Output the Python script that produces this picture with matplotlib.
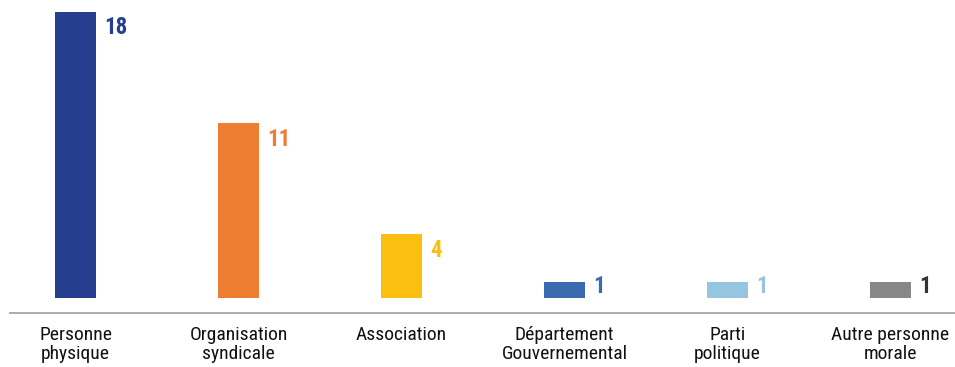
import matplotlib
matplotlib.use("Agg")
import matplotlib.pyplot as plt
from matplotlib import font_manager

categories = ["Personne\nphysique", "Organisation\nsyndicale", "Association",
              "Département\nGouvernemental", "Parti\npolitique", "Autre personne\nmorale"]
values = [18, 11, 4, 1, 1, 1]
bar_colors = ["#253F8E", "#ED7D31", "#FBBF10", "#3A6BB0", "#95C5E0", "#878787"]
label_colors = ["#253F8E", "#ED7D31", "#FBBF10", "#3A6BB0", "#95C5E0", "#333333"]

# Prefer a condensed sans-serif face when one is installed
names = {f.name for f in font_manager.fontManager.ttflist}
candidates = ["Liberation Sans Narrow", "Arial Narrow", "Roboto Condensed",
              "Archivo Narrow", "PT Sans Narrow", "IBM Plex Sans Condensed"]
family = [n for n in candidates if n in names][:1] or ["Liberation Sans"]
plt.rcParams["font.family"] = family + ["DejaVu Sans"]

W, H = 955, 367
fig = plt.figure(figsize=(W / 100, H / 100), dpi=100)
ax = fig.add_axes([10 / W, (H - 313) / H, 1 - 10 / W, 313 / H])

x = list(range(len(values)))
ax.bar(x, values, width=0.25, color=bar_colors)

for xi, v, c in zip(x, values, label_colors):
    # value label beside the bar, kept within the bar's height for short bars
    y_lab = max(v - 1.0, v * 0.7)
    ax.annotate(str(v), xy=(xi + 0.125, y_lab), xytext=(6, 0), textcoords="offset points",
                ha="left", va="center", fontsize=16.5, fontweight="bold", color=c)

ax.set_xlim(-0.402, 5.396)
ax.set_ylim(-0.94, 18.74)
ax.set_xticks(x)
ax.set_xticklabels(categories, fontsize=14, color="#111111", linespacing=1.12)
ax.tick_params(axis="x", length=0, pad=9)
ax.set_yticks([])
for side in ["top", "left", "right"]:
    ax.spines[side].set_visible(False)
ax.spines["bottom"].set_color("#A6A6A6")
ax.spines["bottom"].set_linewidth(1.3)

fig.savefig("out.png", dpi=100)
